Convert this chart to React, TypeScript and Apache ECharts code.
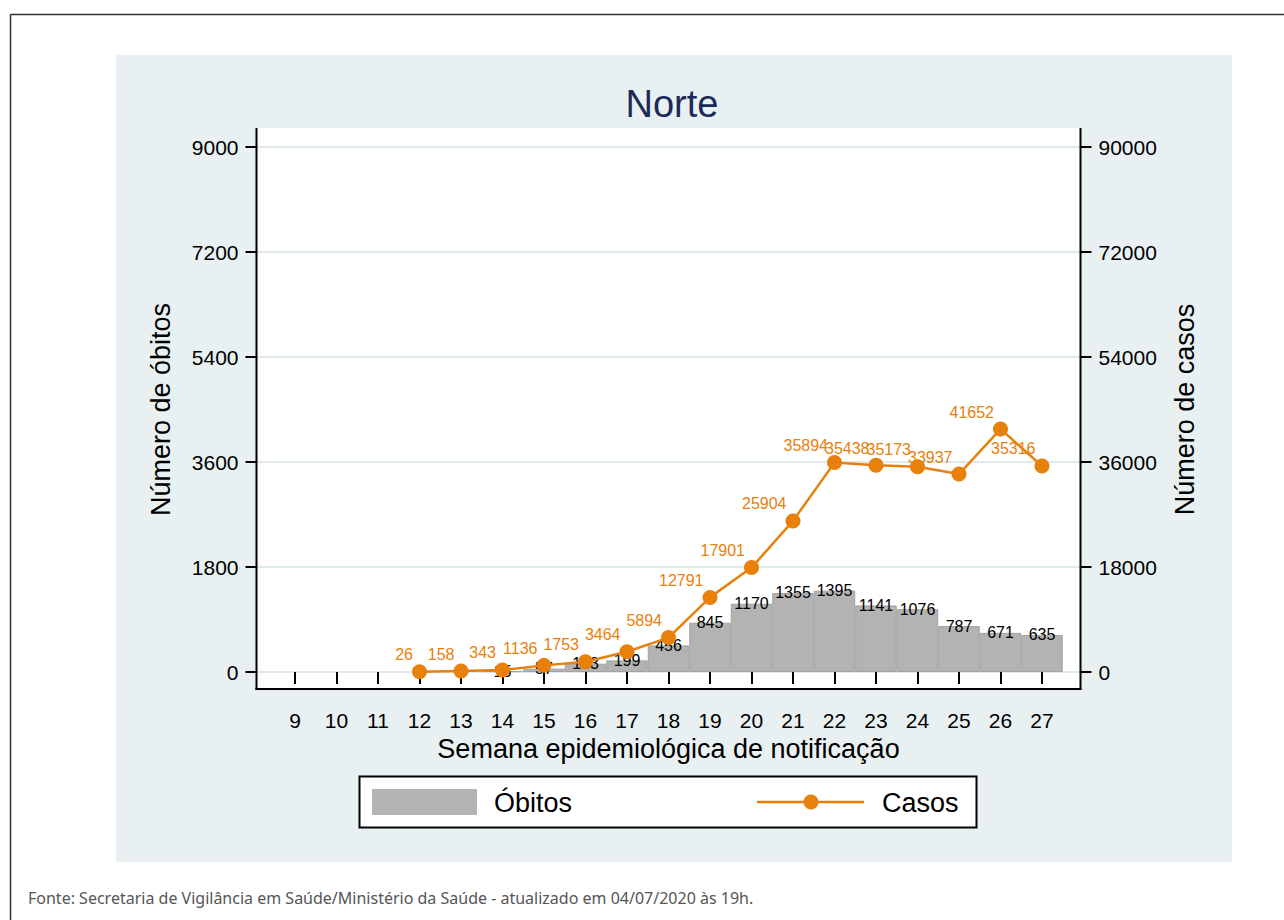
import React, { useEffect, useRef } from "react";
import * as echarts from "echarts";

const weeks = ["9", "10", "11", "12", "13", "14", "15", "16", "17", "18", "19", "20", "21", "22", "23", "24", "25", "26", "27"];
const obitos = [null, null, null, null, null, 15, 57, 143, 199, 456, 845, 1170, 1355, 1395, 1141, 1076, 787, 671, 635];
const casos = [null, null, null, 26, 158, 343, 1136, 1753, 3464, 5894, 12791, 17901, 25904, 35894, 35438, 35173, 33937, 41652, 35316];
const leftTicks = { min: 0, max: 9000, interval: 1800 };
const rightTicks = { min: 0, max: 90000, interval: 18000 };

const FONT = "'Liberation Sans', Arial, Helvetica, sans-serif";
const ORANGE = "#e8800c";
const GREY = "#b3b3b3";
const BG = "#e8f0f2";
const GRID = "#e0e9ed";

const plain = (v: number) => String(v);

export default function App() {
  const ref = useRef<HTMLDivElement>(null);
  useEffect(() => {
    if (!ref.current) return;
    const chart = echarts.init(ref.current, null, { renderer: "svg" });
    const option: any = {
      animation: false,
      backgroundColor: "#ffffff",
      textStyle: { fontFamily: FONT },
      title: {
        text: "Norte",
        left: 667,
        top: 80,
        textAlign: "center",
        textStyle: { fontFamily: FONT, fontSize: 38, fontWeight: "normal", color: "#1d2a57" },
      },
      grid: [
        { left: 274.25, right: 221.25, top: 147, bottom: 248 },
        { left: 256.5, right: 203.5, top: 147, bottom: 248 },
      ],
      xAxis: [
        {
          type: "category",
          gridIndex: 0,
          data: weeks,
          boundaryGap: true,
          offset: 17,
          axisLine: { show: false },
          axisTick: { show: true, alignWithLabel: true, length: 12, lineStyle: { color: "#000", width: 2 } },
          axisLabel: { fontSize: 21, color: "#000", margin: 21, fontFamily: FONT },
          name: "Semana epidemiológica de notificação",
          nameLocation: "middle",
          nameGap: 39,
          nameTextStyle: { fontSize: 27, color: "#000", fontFamily: FONT },
        },
        { type: "value", gridIndex: 1, show: false, min: 0, max: 1 },
      ],
      yAxis: [
        {
          type: "value",
          gridIndex: 1,
          position: "left",
          ...leftTicks,
          axisLine: { show: false },
          axisTick: { show: true, length: 11, lineStyle: { color: "#000", width: 2 } },
          axisLabel: { fontSize: 21, color: "#000", margin: 18, fontFamily: FONT, formatter: plain },
          splitLine: { show: true, lineStyle: { color: GRID, width: 2 } },
          name: "Número de óbitos",
          nameLocation: "middle",
          nameRotate: 90,
          nameGap: 82,
          nameTextStyle: { fontSize: 27, color: "#000", fontFamily: FONT },
        },
        {
          type: "value",
          gridIndex: 1,
          position: "right",
          ...rightTicks,
          axisLine: { show: false },
          axisTick: { show: true, length: 11, lineStyle: { color: "#000", width: 2 } },
          axisLabel: { fontSize: 21, color: "#000", margin: 18, fontFamily: FONT, formatter: plain },
          splitLine: { show: false },
          name: "Número de casos",
          nameLocation: "middle",
          nameRotate: 90,
          nameGap: 91,
          nameTextStyle: { fontSize: 27, color: "#000", fontFamily: FONT },
        },
        { type: "value", gridIndex: 0, show: false, ...leftTicks, splitLine: { show: false } },
        { type: "value", gridIndex: 0, show: false, ...rightTicks, splitLine: { show: false } },
      ],
      series: [
        {
          name: "Óbitos",
          type: "bar",
          xAxisIndex: 0,
          yAxisIndex: 2,
          data: obitos,
          barCategoryGap: 0,
          z: 2,
          itemStyle: { color: GREY, borderColor: "#a2a2a2", borderWidth: 1 },
          label: {
            show: true,
            position: ["50%", 0],
            align: "center",
            verticalAlign: "middle",
            fontSize: 16,
            color: "#000",
            fontFamily: FONT,
            formatter: (p: any) => String(p.value),
          },
        },
        {
          name: "Casos",
          type: "line",
          xAxisIndex: 0,
          yAxisIndex: 3,
          data: casos,
          z: 3,
          symbol: "circle",
          symbolSize: 15,
          itemStyle: { color: ORANGE },
          lineStyle: { color: ORANGE, width: 2.5 },
          label: {
            show: true,
            position: [1, -1.5],
            align: "right",
            verticalAlign: "bottom",
            fontSize: 16,
            color: ORANGE,
            fontFamily: FONT,
            formatter: (p: any) => String(p.value),
          },
        },
      ],
      graphic: [
        { type: "line", z: -20, shape: { x1: 10.5, y1: 14.5, x2: 1284, y2: 14.5 }, style: { stroke: "#333", lineWidth: 1.5 } },
        { type: "line", z: -20, shape: { x1: 10.5, y1: 14.5, x2: 10.5, y2: 920 }, style: { stroke: "#333", lineWidth: 1.5 } },
        { type: "rect", z: -20, shape: { x: 116, y: 55, width: 1116, height: 807 }, style: { fill: BG } },
        { type: "rect", z: -15, shape: { x: 256, y: 128, width: 825, height: 561 }, style: { fill: "#ffffff" } },
        { type: "line", z: 50, shape: { x1: 256.5, y1: 128, x2: 256.5, y2: 690 }, style: { stroke: "#000", lineWidth: 2 } },
        { type: "line", z: 50, shape: { x1: 1080.5, y1: 128, x2: 1080.5, y2: 690 }, style: { stroke: "#000", lineWidth: 2 } },
        { type: "line", z: 50, shape: { x1: 255.5, y1: 689, x2: 1081.5, y2: 689 }, style: { stroke: "#000", lineWidth: 2 } },
        { type: "rect", z: 50, shape: { x: 359.5, y: 776.5, width: 617, height: 51 }, style: { fill: "#fff", stroke: "#000", lineWidth: 2 } },
        { type: "rect", z: 51, shape: { x: 372, y: 789, width: 105, height: 26 }, style: { fill: GREY } },
        { type: "text", z: 51, x: 494, y: 803, style: { text: "Óbitos", fontSize: 27, fontFamily: FONT, fill: "#000", verticalAlign: "middle" } },
        { type: "line", z: 51, shape: { x1: 757, y1: 802, x2: 864, y2: 802 }, style: { stroke: ORANGE, lineWidth: 2.5 } },
        { type: "circle", z: 52, shape: { cx: 811, cy: 802, r: 7.5 }, style: { fill: ORANGE } },
        { type: "text", z: 51, x: 882, y: 803, style: { text: "Casos", fontSize: 27, fontFamily: FONT, fill: "#000", verticalAlign: "middle" } },
        {
          type: "text",
          z: 10,
          x: 28,
          y: 898,
          style: {
            text: "Fonte: Secretaria de Vigilância em Saúde/Ministério da Saúde - atualizado em 04/07/2020 às 19h.",
            fontSize: 16,
            fontFamily: "'Noto Sans', 'Open Sans', sans-serif",
            fill: "#555",
            verticalAlign: "middle",
          },
        },
      ],
    };
    chart.setOption(option);
    return () => chart.dispose();
  }, []);
  return <div ref={ref} style={{ position: "absolute", left: 0, top: 0, width: 1284, height: 920 }} />;
}
